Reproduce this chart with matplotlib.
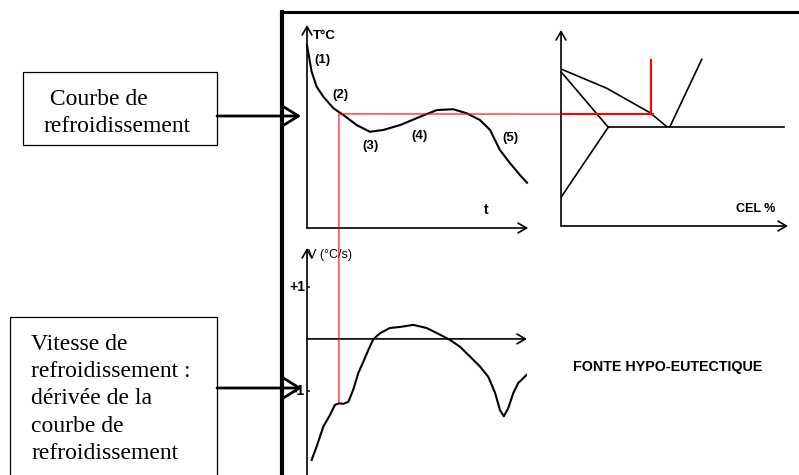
import matplotlib.pyplot as plt
from matplotlib.patches import ConnectionPatch, Rectangle

plt.rcParams['font.family'] = ['Liberation Sans', 'DejaVu Sans']

# cooling curve T(t), arbitrary units (0..10 on both axes)
t_cool = [0, 0.21, 0.44, 0.74, 1.2, 1.65, 2.26, 2.86, 3.47, 4.23, 5.14, 5.9,
          6.65, 7.26, 7.86, 8.32, 8.77, 9.23, 9.68, 10.0]
T_cool = [9.01, 7.70, 6.96, 6.47, 5.90, 5.57, 5.07, 4.74, 4.83, 5.07, 5.48, 5.81,
          5.85, 5.65, 5.32, 4.83, 3.84, 3.19, 2.61, 2.23]
stage_names = ['(1)', '(2)', '(3)', '(4)', '(5)']
stage_t = [0.71, 1.5, 2.9, 5.1, 9.23]
stage_T = [8.28, 6.55, 4.04, 4.55, 4.42]

# cooling rate V = dT/dt (°C/s)
t_rate = [0.21, 0.44, 0.74, 1.05, 1.27, 1.47, 1.65, 1.88, 2.10, 2.33, 2.56, 2.79,
          3.01, 3.32, 3.77, 4.23, 4.83, 5.44, 6.05, 6.5, 6.95, 7.41, 7.86, 8.24,
          8.55, 8.77, 8.95, 9.15, 9.38, 9.6, 9.99]
V_rate = [-2.33, -2.07, -1.69, -1.46, -1.27, -1.24, -1.25, -1.21, -0.98, -0.66,
          -0.44, -0.21, -0.01, 0.11, 0.21, 0.23, 0.27, 0.21, 0.08, -0.02, -0.15,
          -0.34, -0.53, -0.73, -1.04, -1.37, -1.49, -1.33, -1.04, -0.85, -0.69]
V_ticks = [1, -1]
V_tick_labels = ['+1', '-1']

# phase diagram (CEL %, T), arbitrary units
liq_x, liq_y = [0, 2.01, 3.92, 4.66], [8.01, 7.03, 5.78, 5.07]
sol_x, sol_y = [0, 2.08], [7.87, 5.04]
solv_x, solv_y = [0, 2.08], [1.46, 5.04]
eut_x, eut_y = [2.08, 9.84], [5.04, 5.04]
gra_x, gra_y = [4.80, 6.20], [5.07, 8.5]

# reading of the liquidus arrest
t_arrest = 1.45
T_arrest = 5.62        # in cooling-curve units
T_arrest_pd = 5.71     # same temperature in phase-diagram units
CE_read = 3.96
T_top_pd = 8.47
V_arrest = -1.23

fig = plt.figure(figsize=(7.99, 4.75), dpi=100)

axis_arrow = dict(arrowstyle='->,head_length=0.6,head_width=0.35', lw=1.2,
                  color='black', shrinkA=0, shrinkB=0)


def axis_line(ax, start, end):
    ax.annotate('', xy=end, xytext=start, arrowprops=axis_arrow,
                annotation_clip=False)


# cooling curve panel
ax1 = fig.add_axes([307 / 799, (475 - 228) / 475, 220 / 799, 203 / 475])
ax1.set_xlim(0, 10)
ax1.set_ylim(0, 10)
ax1.axis('off')
axis_line(ax1, (0, 0), (10.05, 0))
axis_line(ax1, (0, 0), (0, 10))
ax1.plot(t_cool, T_cool, color='black', lw=1.5, clip_on=False)
ax1.text(0.25, 9.45, 'T°C', fontsize=9.5, fontweight='bold', va='center')
ax1.text(8.14, 0.89, 't', fontsize=10, fontweight='bold', ha='center', va='center')
for name, x, y in zip(stage_names, stage_t, stage_T):
    ax1.text(x, y, name, fontsize=9.5, fontweight='bold', ha='center', va='center')

# phase diagram panel
ax2 = fig.add_axes([561 / 799, (475 - 226) / 475, 227 / 799, 196 / 475])
ax2.set_xlim(0, 10)
ax2.set_ylim(0, 10)
ax2.axis('off')
axis_line(ax2, (0, 0), (10, 0))
axis_line(ax2, (0, 0), (0, 10))
for xs, ys in [(liq_x, liq_y), (sol_x, sol_y), (solv_x, solv_y), (eut_x, eut_y), (gra_x, gra_y)]:
    ax2.plot(xs, ys, color='black', lw=1.2)
ax2.plot([0, CE_read + 0.08], [T_arrest_pd, T_arrest_pd], color='red', lw=1.5)
ax2.plot([CE_read, CE_read], [T_arrest_pd, T_top_pd], color='red', lw=1.5)
ax2.text(8.59, 0.87, 'CEL %', fontsize=9, fontweight='bold', ha='center', va='center')

# cooling rate panel
ax3 = fig.add_axes([307 / 799, 0, 220 / 799, 227 / 475])
ax3.set_xlim(0, 10)
ax3.set_ylim(-2.62, 1.75)
ax3.axis('off')
axis_line(ax3, (0, 0), (10, 0))
axis_line(ax3, (0, -2.8), (0, 1.75))
ax3.plot(t_rate, V_rate, color='black', lw=1.5)
for v, lab in zip(V_ticks, V_tick_labels):
    ax3.plot([0, 0.1], [v, v], color='black', lw=1.2)
    ax3.text(-0.09, v, lab, fontsize=10, fontweight='bold', ha='right', va='center')
ax3.text(0.05, 1.62, 'V (°C/s)', fontsize=9, ha='left', va='center')

# red reading lines across panels
fig.add_artist(ConnectionPatch(xyA=(t_arrest, T_arrest), coordsA=ax1.transData,
                               xyB=(0, T_arrest_pd), coordsB=ax2.transData,
                               color='red', lw=0.8))
fig.add_artist(ConnectionPatch(xyA=(t_arrest, T_arrest), coordsA=ax1.transData,
                               xyB=(t_arrest, V_arrest), coordsB=ax3.transData,
                               color='red', lw=0.8))

# frame, boxes and arrows (pixel layout)
bg = fig.add_axes([0, 0, 1, 1], zorder=5)
bg.set_xlim(0, 799)
bg.set_ylim(475, 0)
bg.axis('off')
bg.plot([282, 282], [10, 480], color='black', lw=3, solid_capstyle='butt')
bg.plot([280, 799], [11.7, 11.7], color='black', lw=2.2, solid_capstyle='butt')

bg.add_patch(Rectangle((23, 72), 194, 73, fill=False, lw=0.9, edgecolor='black'))
bg.add_patch(Rectangle((10, 317), 207, 175, fill=False, lw=0.9, edgecolor='black'))

box_arrow = dict(arrowstyle='->,head_length=1.2,head_width=0.75', lw=2,
                 color='black', shrinkA=0, shrinkB=0)
bg.annotate('', xy=(301, 116), xytext=(217, 116), arrowprops=box_arrow)
bg.annotate('', xy=(302, 388), xytext=(217, 388), arrowprops=box_arrow)

serif = dict(family='Liberation Serif', fontsize=17, va='baseline', ha='left')
for i, line in enumerate([' Courbe de', 'refroidissement']):
    bg.text(44, 105 + i * 26.7, line, **serif)
for i, line in enumerate(['Vitesse de', 'refroidissement :', 'dérivée de la',
                          'courbe de', 'refroidissement']):
    bg.text(31, 350 + i * 27.2, line, **serif)

bg.text(668, 367, 'FONTE HYPO-EUTECTIQUE', fontsize=10.3, fontweight='bold',
        ha='center', va='center')

fig.savefig('out.png', dpi=100)
